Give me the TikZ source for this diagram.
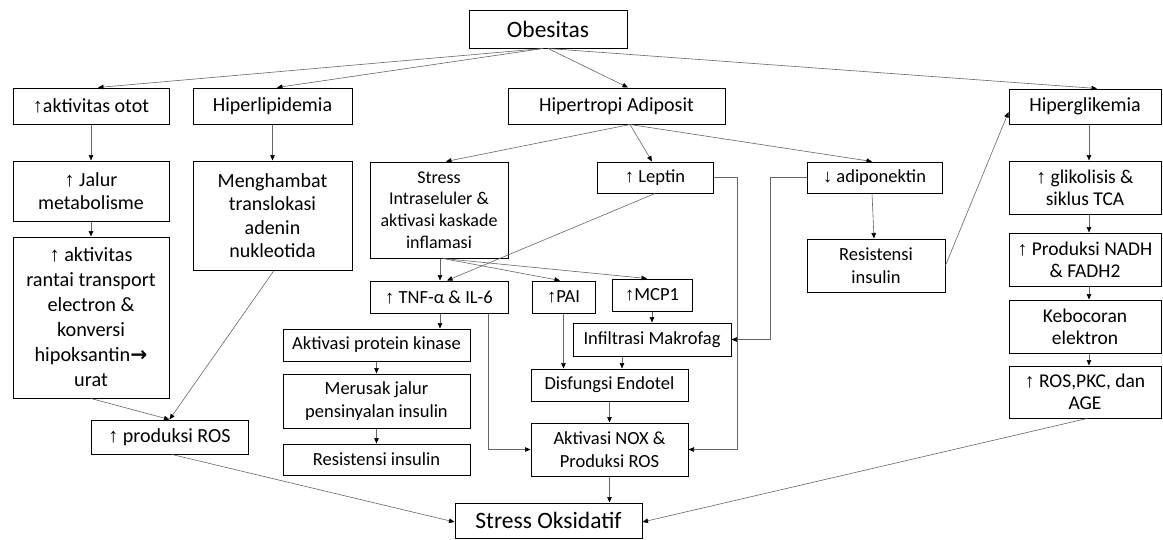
\documentclass[tikz,border=0pt]{standalone}
\usepackage{fontspec}
\setmainfont{Carlito}
\newfontfamily\arrowfont{Liberation Sans}
\newfontfamily\arrowboldfont{DejaVu Sans Bold}
\newcommand{\ua}{{\arrowfont ↑}}
\newcommand{\da}{{\arrowfont ↓}}
\newcommand{\rarr}{{\arrowboldfont →}}
\usetikzlibrary{arrows.meta}
\begin{document}
\begin{tikzpicture}[x=1pt,y=-1pt,
  box/.style={draw=black,line width=1pt,inner sep=0pt,align=center,fill=white},
  wh/.style 2 args={minimum width=#1pt,minimum height=#2pt},
  fL/.style={font=\fontsize{23.5}{28}\selectfont},
  fM/.style={font=\fontsize{20}{23.5}\selectfont},
  fR/.style={font=\fontsize{19.5}{21.7}\selectfont},
  fS/.style={font=\fontsize{18.5}{22.5}\selectfont},
  conn/.style={draw=black!60,line width=0.6pt,-{Triangle[length=5.5pt,width=4.5pt,color=black]}}
]
\fill[white] (0,0) rectangle (1163,539);
\useasboundingbox (0,0) rectangle (1163,539);

% top
\node[box,fL,wh={158}{38}] (ob) at (548,29) {Obesitas};
\node[box,fM,wh={156}{36}] (a1) at (91,106) {\ua aktivitas otot};
\node[box,fM,wh={159}{36}] (b1) at (272.5,106) {Hiperlipidemia};
\node[box,fM,wh={217}{36}] (c1) at (616.5,106) {Hipertropi Adiposit};
\node[box,fM,wh={152}{35}] (d1) at (1085,106.5) {Hiperglikemia};

% left columns
\node[box,fM,wh={156}{60}] (a2) at (91,191) {\ua{} Jalur\\metabolisme};
\node[box,wh={156}{161},font=\fontsize{20.3}{25}\selectfont] (a3) at (91,317.5)
  {\ua{} aktivitas\\rantai transport\\electron \&\\konversi\\hipoksantin\rarr\\urat};
\node[box,fM,wh={159}{109}] (b2) at (272.5,215.5) {Menghambat\\translokasi\\adenin\\nukleotida};
\node[box,fM,wh={157}{34}] (g) at (169.5,437) {\ua{} produksi ROS};

% middle
\node[box,wh={138}{96},font=\fontsize{18}{21.7}\selectfont] (c2) at (439,210)
  {Stress\\Intraseluler \&\\aktivasi kaskade\\inflamasi};
\node[box,fS,wh={116}{31}] (c3) at (655,177.5) {\ua{} Leptin};
\node[box,fS,wh={135}{31}] (c4) at (874.5,177.5) {\da{} adiponektin};
\node[box,fS,wh={138}{53}] (c5) at (876,265.5) {Resistensi\\insulin};

\node[box,fS,wh={138}{32}] (e1) at (439,297) {\ua{} TNF-α \& IL-6};
\node[box,fS,wh={63}{32}] (e2) at (563.5,297) {\ua PAI};
\node[box,fS,wh={80}{32}] (e3) at (652,295) {\ua MCP1};
\node[box,fS,wh={158}{33}] (e4) at (652,339.5) {Infiltrasi Makrofag};
\node[box,fS,wh={157}{32}] (e5) at (609.5,385) {Disfungsi Endotel};
\node[box,fS,wh={157}{53}] (e6) at (609.5,449.5) {Aktivasi NOX \&\\Produksi ROS};

\node[box,fS,wh={187}{32}] (f1) at (376.5,345) {Aktivasi protein kinase};
\node[box,fS,wh={187}{54}] (f2) at (376.5,401) {Merusak jalur\\pensinyalan insulin};
\node[box,fS,wh={187}{31}] (f3) at (376.5,459.5) {Resistensi insulin};

\node[box,fL,wh={187}{35}] (so) at (548.5,520.5) {Stress Oksidatif};

% right column
\node[box,fR,wh={152}{53}] (d2) at (1085,187.5) {\ua{} glikolisis \&\\siklus TCA};
\node[box,fR,wh={152}{53}] (d3) at (1085,259.5) {\ua{} Produksi NADH\\\& FADH2};
\node[box,fR,wh={152}{53}] (d4) at (1085,326.5) {Kebocoran\\elektron};
\node[box,fR,wh={152}{52}] (d5) at (1085,392) {\ua{} ROS,PKC, dan\\AGE};

% connectors from Obesitas
\draw[conn] ([xshift=-5pt]ob.south) -- ([xshift=7pt]a1.north);
\draw[conn] ([xshift=-5pt]ob.south) -- ([xshift=4.5pt]b1.north);
\draw[conn] (ob.south) -- ([xshift=11.5pt]c1.north);
\draw[conn] (ob.south) -- ([xshift=12pt]d1.north);

% left
\draw[conn] (a1.south) -- (a2.north);
\draw[conn] (a2.south) -- (a3.north);
\draw[conn] (b1.south) -- (b2.north);
\draw[conn] (a3.south) -- (g.north);
\draw[conn] ([xshift=1.5pt]b2.south) -- (g.north);
\draw[conn] ([xshift=2.5pt]g.south) -- ([yshift=-1.5pt]so.west);

% from Hipertropi
\draw[conn] ([xshift=13.5pt]c1.south) -- ([xshift=7pt]c2.north);
\draw[conn] ([xshift=13.5pt]c1.south) -- ([xshift=-3pt]c3.north);
\draw[conn] ([xshift=13.5pt]c1.south) -- ([xshift=-2.5pt]c4.north);

% from Stress intraseluler
\draw[conn] ([xshift=1pt]c2.south) -- ([xshift=1pt]e1.north);
\draw[conn] ([xshift=4pt]c2.south) -- ([xshift=-3.5pt]e2.north);
\draw[conn] ([xshift=4pt]c2.south) -- ([xshift=-5pt]e3.north);

% Leptin
\draw[conn] (c3.south) -- ([xshift=8pt]e1.north);
\coordinate (lr) at (737,0);
\draw[conn] (c3.east) -- (c3.east -| lr) |- (e6.east);

% adiponektin
\coordinate (ar) at (770,0);
\draw[conn] (c4.west) -- (c4.west -| ar) |- (e4.east);
\draw[conn] ([xshift=-2.5pt]c4.south) -- ([xshift=-2pt]c5.north);
\draw[conn] (c5.east) -- ([yshift=-5.5pt]d1.west);

% right column
\draw[conn] ([xshift=4pt]d1.south) -- ([xshift=4pt]d2.north);
\draw[conn] ([xshift=4pt]d2.south) -- ([xshift=4pt]d3.north);
\draw[conn] ([xshift=4pt]d3.south) -- ([xshift=4pt]d4.north);
\draw[conn] ([xshift=4pt]d4.south) -- ([xshift=4pt]d5.north);
\draw[conn] ([xshift=2pt]d5.south) -- ([yshift=-1.5pt]so.east);

% TNF
\coordinate (e1s) at ([xshift=1pt]e1.south);
\draw[conn] (e1s) -- (e1s |- f1.north);
\draw[conn] (f1.south) -- (f2.north);
\draw[conn] (f2.south) -- (f3.north);
\coordinate (tr) at (488,0);
\draw[conn] (e1.south -| tr) |- (e6.west);

% PAI, MCP1, Infiltrasi, Disfungsi, NOX
\draw[conn] (e2.south) -- (e2.south |- e5.north);
\draw[conn] (e3.south) -- (e4.north);
\coordinate (e4s) at ([xshift=-30pt]e4.south);
\draw[conn] (e4s) -- (e4s |- e5.north);
\draw[conn] (e5.south) -- (e6.north);
\draw[conn] (e6.south) -- (e6.south |- so.north);
\end{tikzpicture}
\end{document}
